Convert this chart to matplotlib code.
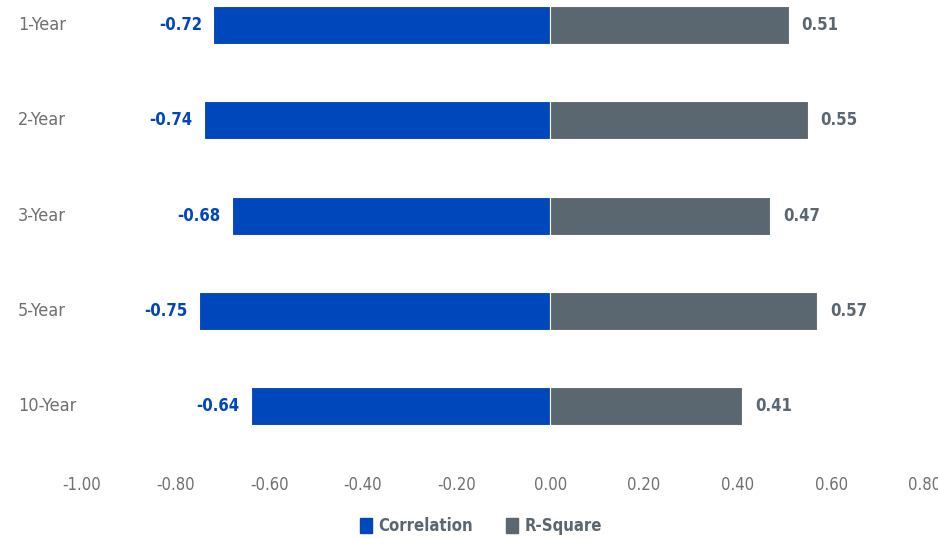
import numpy as np
import matplotlib.pyplot as plt
from matplotlib.patches import Patch
from matplotlib.transforms import blended_transform_factory

# Dados
periodos = ['1-Year', '2-Year', '3-Year', '5-Year', '10-Year']
correlacao = [-0.72, -0.74, -0.68, -0.75, -0.64]
r_quadrado = [0.51, 0.55, 0.47, 0.57, 0.41]
ticks_x = [-1.0, -0.8, -0.6, -0.4, -0.2, 0.0, 0.2, 0.4, 0.6, 0.8]

azul = '#0047bb'
cinza = '#5b6770'
cinza_texto = '#707070'

plt.rcParams['font.family'] = ['DejaVu Sans']
plt.rcParams['font.stretch'] = 'condensed'

fig = plt.figure(figsize=(9.38, 5.39), dpi=100)
ax = fig.add_axes([82 / 938, 1 - 468 / 539, (925 - 82) / 938, 468 / 539])

y = np.arange(len(periodos))
ax.barh(y, correlacao, height=0.4, color=azul, edgecolor='white', linewidth=0.8)
ax.barh(y, r_quadrado, height=0.4, color=cinza, edgecolor='white', linewidth=0.8)

# rótulos das categorias em x da figura, y dos dados
trans_cat = blended_transform_factory(fig.transFigure, ax.transData)

for i in range(len(periodos)):
    ax.annotate(f'{correlacao[i]:.2f}', (correlacao[i], y[i]), xytext=(-8, 0),
                textcoords='offset points', ha='right', va='center',
                color=azul, fontsize=12, fontweight='bold')
    ax.annotate(f'{r_quadrado[i]:.2f}', (r_quadrado[i], y[i]), xytext=(9, 0),
                textcoords='offset points', ha='left', va='center',
                color=cinza, fontsize=12, fontweight='bold')
    ax.text(18 / 938, y[i], periodos[i], transform=trans_cat,
            fontsize=13, color=cinza_texto, ha='left', va='center')

ax.set_xlim(-1.0, 0.8)
ax.set_ylim(4.65, -25 / 95)
ax.set_xticks(ticks_x)
ax.set_xticklabels([f'{v:.2f}' for v in ticks_x], fontsize=12, color=cinza_texto)
ax.set_yticks([])
ax.tick_params(axis='x', length=0, pad=6)
for s in ax.spines.values():
    s.set_visible(False)

handles = [Patch(color=azul, label='Correlation'), Patch(color=cinza, label='R-Square')]
fig.legend(handles=handles, loc='center', ncol=2, frameon=False,
           bbox_to_anchor=(0.513, 1 - 526 / 539), handlelength=0.7, handleheight=1.0,
           columnspacing=2.0, handletextpad=0.4,
           prop={'size': 12, 'weight': 'bold'}, labelcolor=cinza)

fig.savefig('out.png', dpi=100)
